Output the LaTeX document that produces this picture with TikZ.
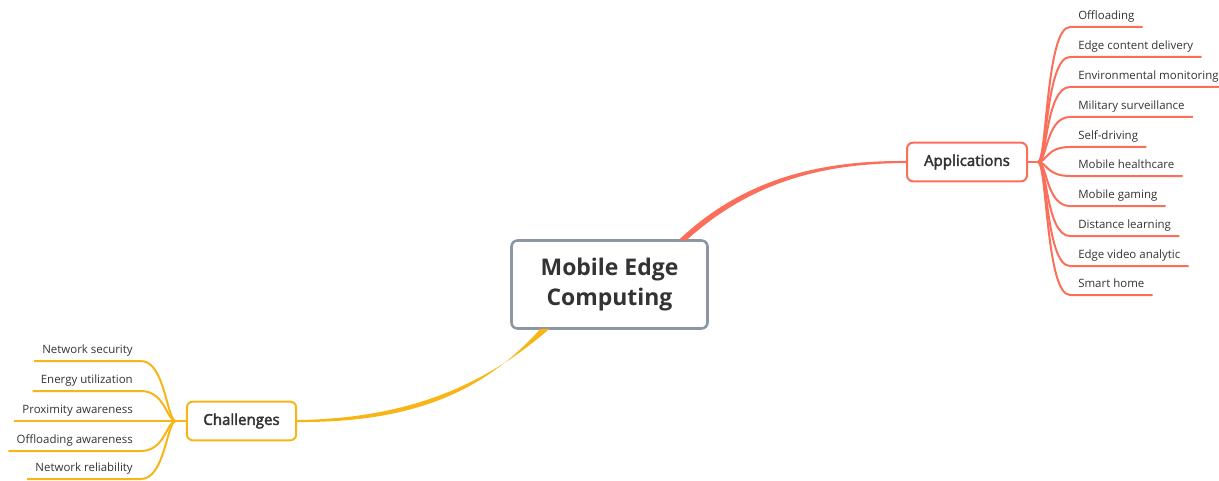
\documentclass[tikz,border=0pt]{standalone}
\usepackage{fontspec}
\setmainfont{Open Sans}
\newfontfamily\topicfont[FakeBold=2.5]{Open Sans}
\usetikzlibrary{calc}

\definecolor{appred}{HTML}{FA6E5A}
\definecolor{chalyellow}{HTML}{F8B517}
\definecolor{rootgray}{HTML}{8C97A6}
\definecolor{txtgray}{HTML}{333333}

\tikzset{
  root/.style={draw=rootgray, fill=white, rounded corners=4.5pt, line width=1.9pt,
    minimum width=147pt, minimum height=66pt, align=center, text=txtgray,
    font=\fontsize{17.2}{23}\selectfont\bfseries},
  topic/.style={draw, fill=white, rounded corners=4.5pt, line width=1.5pt,
    minimum height=29pt, text=txtgray, font=\fontsize{11.3}{13}\topicfont},
  leaf/.style={inner xsep=6pt, inner ysep=2.75pt, text height=7pt, text depth=2.5pt,
    text=txtgray, font=\fontsize{8.6}{10}\selectfont},
  leafR/.style={leaf, anchor=south west},
  leafL/.style={leaf, anchor=south east},
  branch/.style={line width=1.5pt}
}

\begin{document}
\begin{tikzpicture}[x=0.75pt, y=-0.75pt]
  \useasboundingbox (0,0) rectangle (1219,481);

  \node[root] (mec) at (609.5,284.5) {Mobile Edge\\Computing};
  \node[topic, draw=appred, minimum width=90pt] (apps) at (967,162) {Applications};
  \node[topic, draw=chalyellow, minimum width=82pt] (chal) at (241.5,421) {Challenges};

  % main branches, thick at the root and thin at the topic
  \fill[appred] ($(mec.north)+(69,1)$) .. controls (748,174) and (830,160.5) .. ($(apps.west)+(0,-1)$)
    -- ($(apps.west)+(0,1)$) .. controls (830,163.5) and (755,178) .. ($(mec.north)+(77,1)$) -- cycle;
  \fill[chalyellow] ($(chal.east)+(0,-1)$) .. controls (420,418.5) and (494,377) .. ($(mec.south)+(-60,-1)$)
    -- ($(mec.south)+(-69,-1)$) .. controls (488,387) and (420,423) .. ($(chal.east)+(0,1)$) -- cycle;

  % applications
  \node[leafR] (off)  at (1070,27)  {Offloading};
  \node[leafR] (ecd)  at (1070,57)  {Edge content delivery};
  \node[leafR] (env)  at (1070,87)  {Environmental monitoring};
  \node[leafR] (mil)  at (1070,117) {Military surveillance};
  \node[leafR] (self) at (1070,147) {Self-driving};
  \node[leafR] (hc)   at (1070,176) {Mobile healthcare};
  \node[leafR] (game) at (1070,206) {Mobile gaming};
  \node[leafR] (dist) at (1070,236) {Distance learning};
  \node[leafR] (vid)  at (1070,266) {Edge video analytic};
  \node[leafR] (home) at (1070,295) {Smart home};

  \coordinate (appsb) at ($(apps.east)+(10,0)$);
  \draw[appred, branch] (apps.east) -- (appsb);
  \foreach \n in {off,ecd,env,mil,self,hc,game,dist,vid,home}
    \draw[appred, branch] (appsb) .. controls +(9,0) and +(-24,0) .. (\n.south west) -- (\n.south east);

  % challenges
  \node[leafL] (sec)  at (141,361) {Network security};
  \node[leafL] (nrg)  at (141,391) {Energy utilization};
  \node[leafL] (prox) at (141,421) {Proximity awareness};
  \node[leafL] (offa) at (141,451) {Offloading awareness};
  \node[leafL] (rel)  at (141,479) {Network reliability};

  \coordinate (chalb) at ($(chal.west)+(-10,0)$);
  \draw[chalyellow, branch] (chal.west) -- (chalb);
  \foreach \n in {sec,nrg,prox,offa,rel}
    \draw[chalyellow, branch] (chalb) .. controls +(-9,0) and +(24,0) .. (\n.south east) -- (\n.south west);
\end{tikzpicture}
\end{document}
